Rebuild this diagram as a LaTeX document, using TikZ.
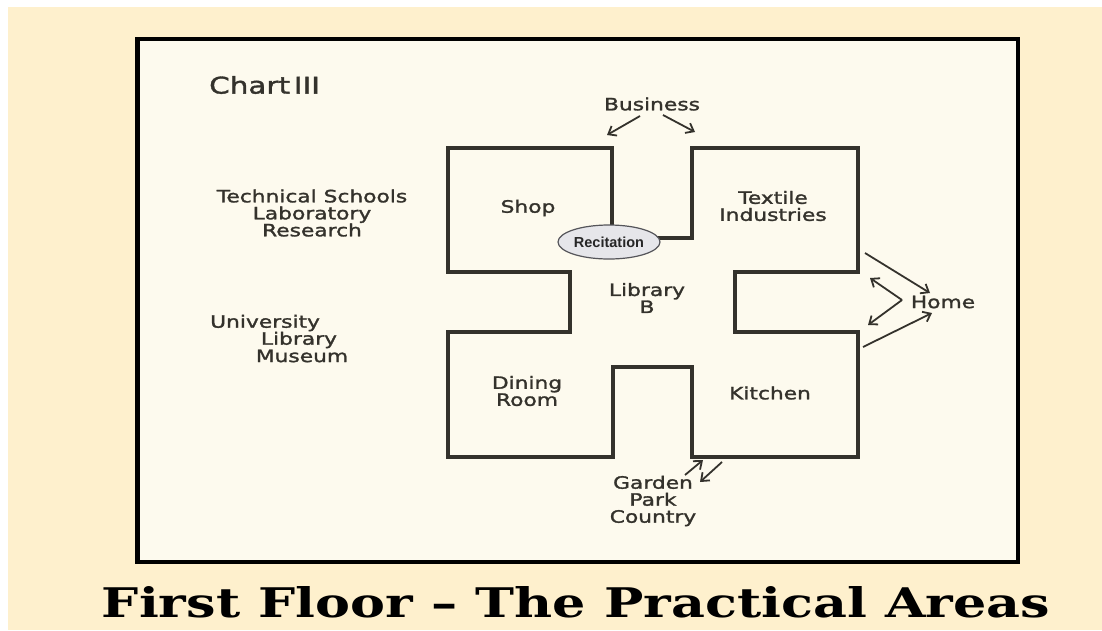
\documentclass[tikz,border=0pt]{standalone}
\usepackage{fontspec}
\usetikzlibrary{arrows.meta,shapes.geometric}
\newfontfamily\handfont[FakeStretch=1.28,FakeBold=1.6]{DejaVu Sans}
\newfontfamily\titlefont{DejaVu Serif}
\newfontfamily\ovalfont{Liberation Sans}
\definecolor{cream}{HTML}{FEF0CD}
\definecolor{paper}{HTML}{FDFAEE}
\definecolor{ink}{HTML}{34322C}
\definecolor{ovalfill}{HTML}{E6E6EA}
\definecolor{ovaledge}{HTML}{55555A}
\begin{document}
\begin{tikzpicture}[x=1pt,y=-1pt,
  lbl/.style={font=\handfont\fontsize{17}{17}\selectfont, text=ink, align=center, inner sep=0pt},
  wall/.style={draw=ink, line width=3.2pt, line join=miter},
  arr/.style={draw=ink, line width=1.8pt, -{Straight Barb[length=7pt,width=11pt,line width=1.8pt]}},
]
\useasboundingbox (0,0) rectangle (1102,630);
\fill[white] (0,0) rectangle (1102,630);
\fill[cream] (8,7) rectangle (1102,630);
\draw[fill=paper, line width=4.5pt] (137.5,39) rectangle (1018,562);

% floor plan outline
\draw[wall] (612,238) -- (612,148) -- (448,148) -- (448,272) -- (570,272) -- (570,332)
  -- (448,332) -- (448,457) -- (613,457) -- (613,367) -- (692,367) -- (692,457)
  -- (858,457) -- (858,332) -- (735,332) -- (735,272) -- (858,272) -- (858,148)
  -- (692,148) -- (692,238) -- cycle;

\node[ellipse, draw=ovaledge, line width=1.2pt, fill=ovalfill, minimum width=102pt, minimum height=34pt, inner sep=0pt,
  font=\ovalfont\bfseries\fontsize{14.5}{14.5}\selectfont, text=black!85] (recit) at (609,242) {Recitation};

% labels
\node[lbl, anchor=west, font=\handfont\fontsize{23}{23}\selectfont] (chart) at (209,85) {Chart\,III};
\node[lbl] (business) at (652,104) {Business};
\node[lbl] (shop) at (528,208) {Shop};
\node[lbl] (textile) at (773,206) {Textile\\Industries};
\node[lbl] (tech) at (312,213) {Technical Schools\\Laboratory\\Research};
\node[lbl, anchor=west] (univ) at (210,323) {University};
\node[lbl] (ulib) at (299,340) {Library};
\node[lbl] (umus) at (302,356) {Museum};
\node[lbl] (library) at (647,298) {Library\\B};
\node[lbl] (dining) at (527,391) {Dining\\Room};
\node[lbl] (kitchen) at (770,393) {Kitchen};
\node[lbl] (garden) at (653,501) {Garden\\Park\\Country};
\node[lbl] (home) at (943,302) {Home};

% arrow end points
\coordinate (b1s) at (640,116); \coordinate (b1e) at (607,135);
\coordinate (b2s) at (663,115); \coordinate (b2e) at (695,132);
\coordinate (g1s) at (685,475); \coordinate (g1e) at (703,460);
\coordinate (g2s) at (722,462); \coordinate (g2e) at (700,482);
\coordinate (h1s) at (865,253); \coordinate (h1e) at (930,293);
\coordinate (hc)  at (902,300);
\coordinate (h2e) at (870,278); \coordinate (h3e) at (868,325);
\coordinate (h4s) at (863,347); \coordinate (h4e) at (932,313);

\draw[arr] (b1s) -- (b1e);
\draw[arr] (b2s) -- (b2e);
\draw[arr] (g1s) -- (g1e);
\draw[arr] (g2s) -- (g2e);
\draw[arr] (h1s) -- (h1e);
\draw[arr] (hc) -- (h2e);
\draw[arr] (hc) -- (h3e);
\draw[arr] (h4s) -- (h4e);

% title
\node[anchor=base, inner sep=0pt] (title) at (576,617)
  {\resizebox{948pt}{31pt}{\titlefont\bfseries First Floor – The Practical Areas}};
\end{tikzpicture}
\end{document}
